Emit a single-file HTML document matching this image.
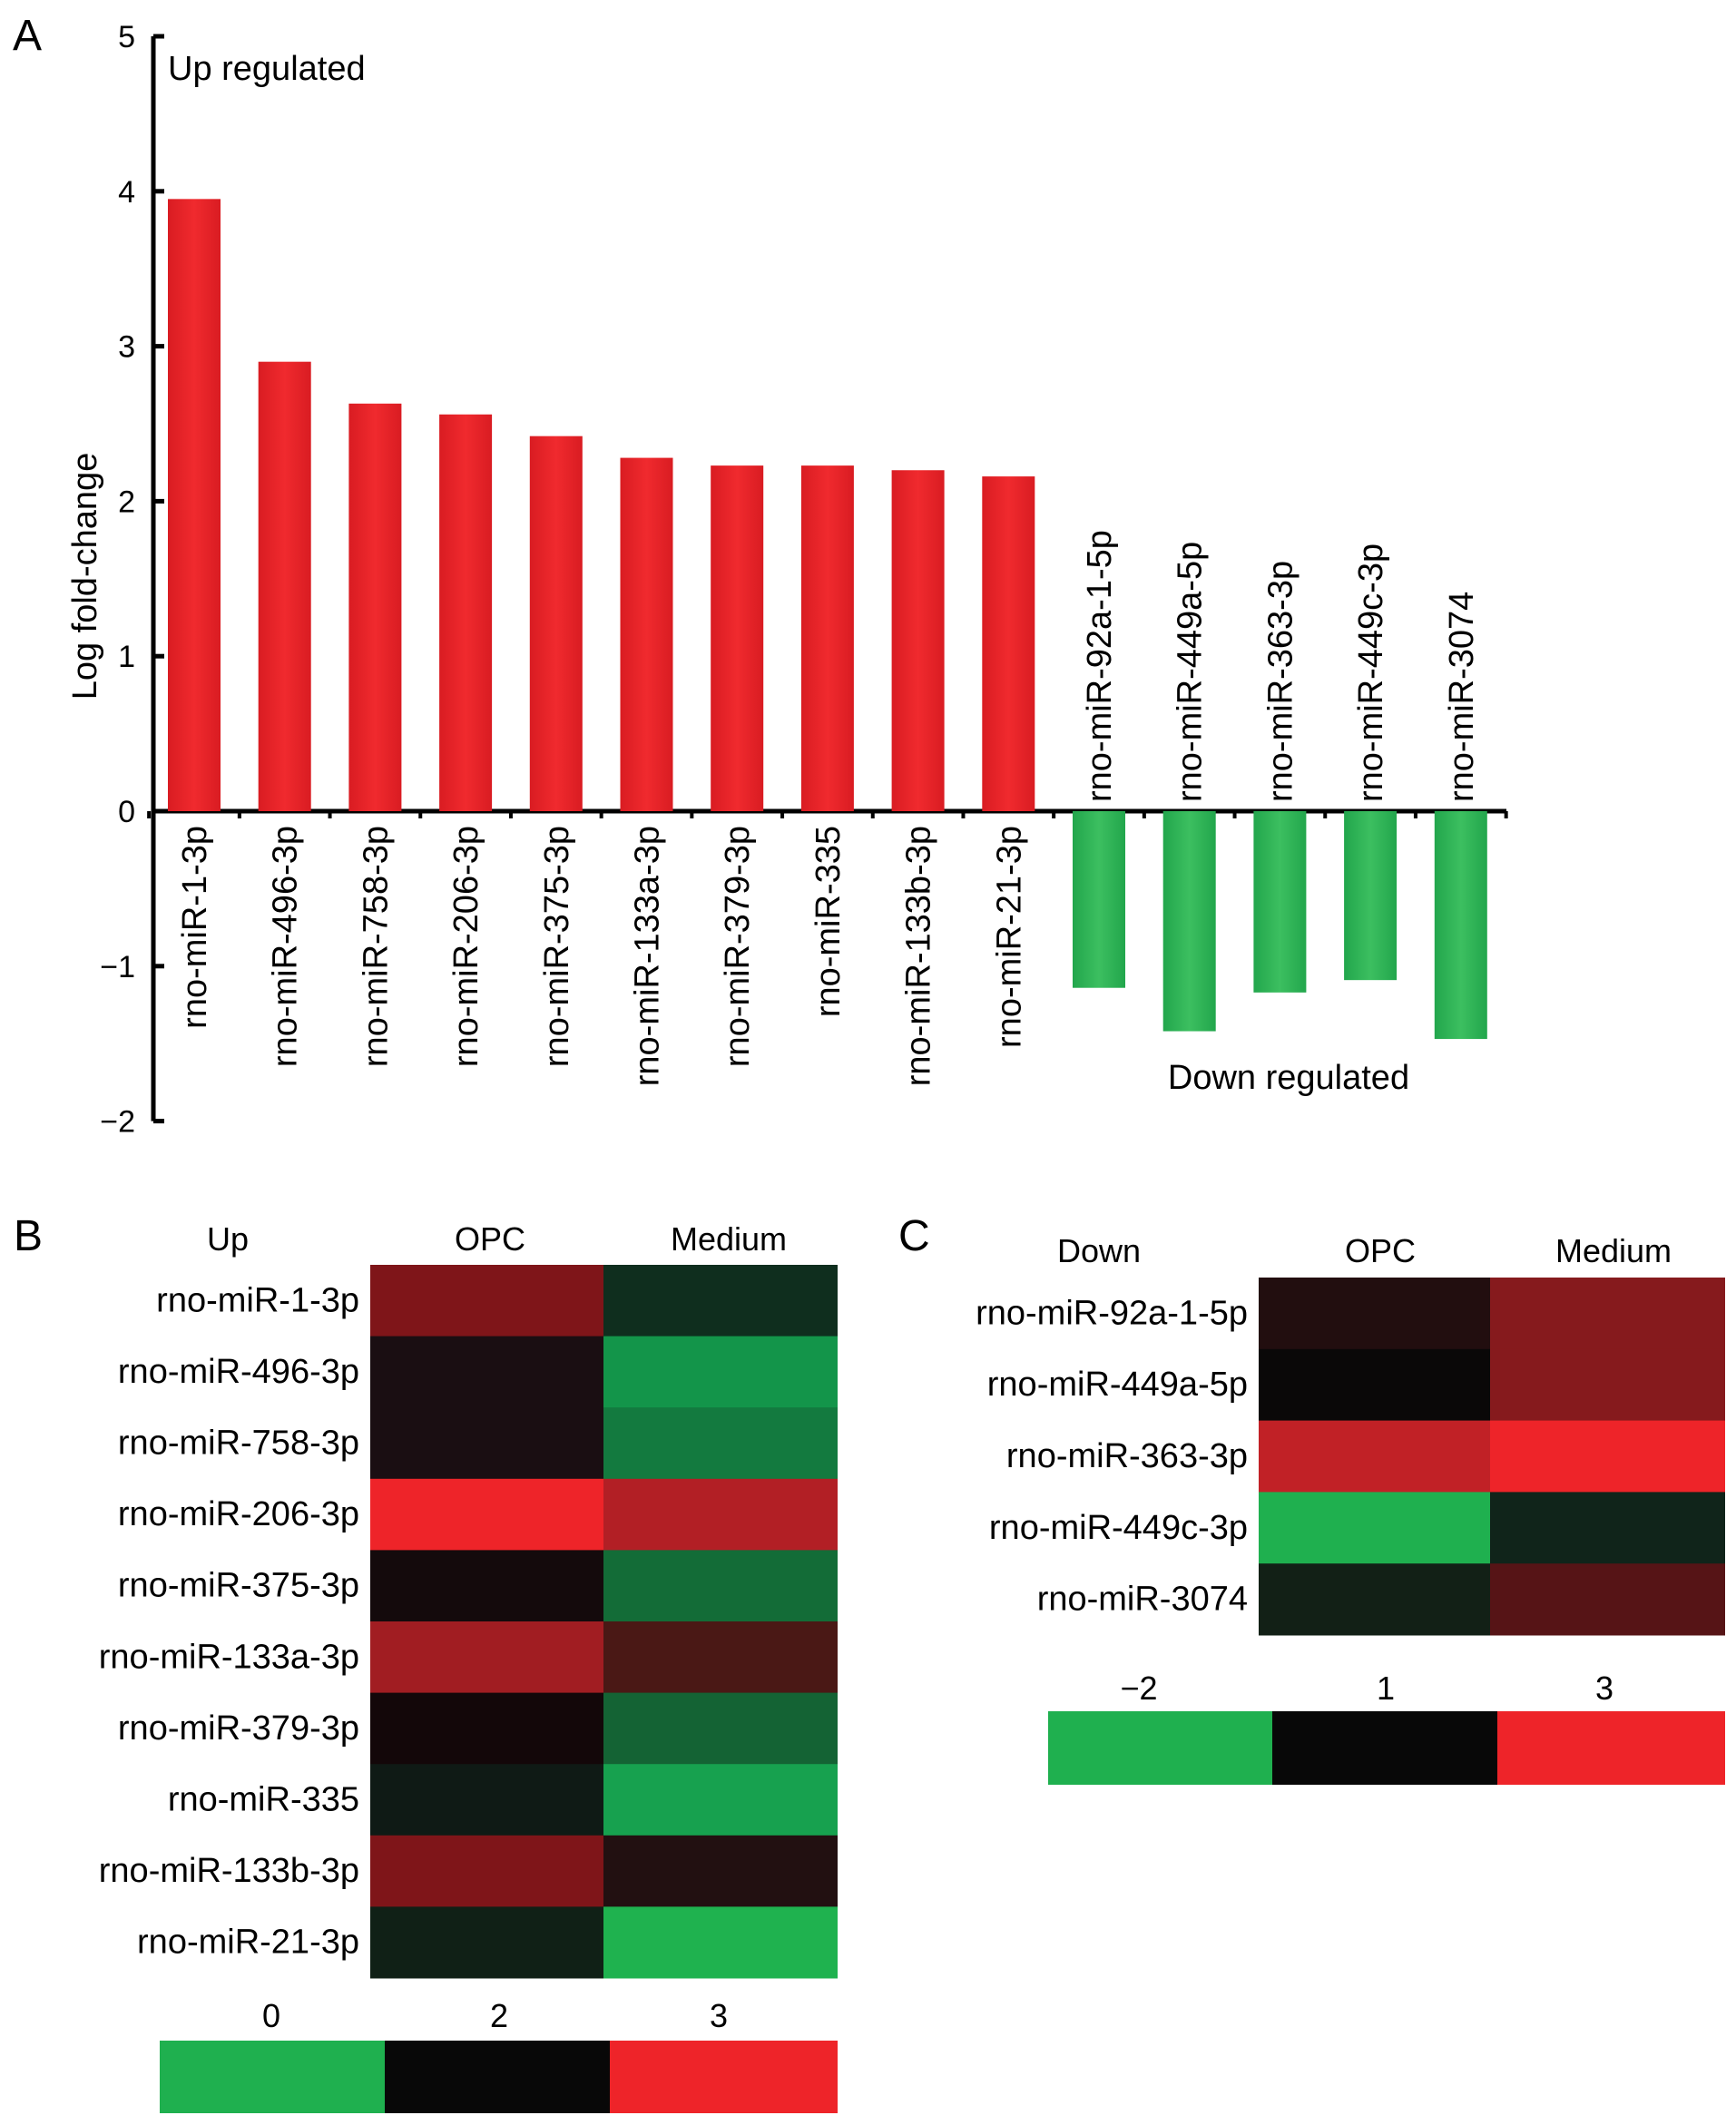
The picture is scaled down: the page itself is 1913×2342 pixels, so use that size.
<!DOCTYPE html>
<html><head><meta charset="utf-8"><style>
html,body{margin:0;padding:0;background:#fff}
svg{display:block;font-family:"Liberation Sans",Arial,sans-serif}
</style></head><body>
<svg id="fig" width="1913" height="2342" viewBox="0 0 1913 2342" xmlns="http://www.w3.org/2000/svg">
<defs>
<linearGradient id="gr" x1="0" x2="1"><stop offset="0" stop-color="#d91c22"/><stop offset="0.5" stop-color="#f02a2e"/><stop offset="1" stop-color="#d91c22"/></linearGradient>
<linearGradient id="gg" x1="0" x2="1"><stop offset="0" stop-color="#22a64c"/><stop offset="0.5" stop-color="#3cbf60"/><stop offset="1" stop-color="#22a64c"/></linearGradient>
</defs>
<text x="14" y="55" font-size="48">A</text>
<text x="15" y="1378" font-size="48">B</text>
<text x="990" y="1378" font-size="48">C</text>
<g id="chartA"></g>
<g id="heatB"></g>
<g id="heatC"></g>
</svg>
<script>
const categories = ["rno-miR-1-3p","rno-miR-496-3p","rno-miR-758-3p","rno-miR-206-3p","rno-miR-375-3p","rno-miR-133a-3p","rno-miR-379-3p","rno-miR-335","rno-miR-133b-3p","rno-miR-21-3p","rno-miR-92a-1-5p","rno-miR-449a-5p","rno-miR-363-3p","rno-miR-449c-3p","rno-miR-3074"];
const foldChange = [3.95,2.9,2.63,2.56,2.42,2.28,2.23,2.23,2.2,2.16,-1.14,-1.42,-1.17,-1.09,-1.47];
const yTicks = [5,4,3,2,1,0,-1,-2];
const yTickLabels = ["5","4","3","2","1","0","\u22121","\u22122"];

const upGenes = ["rno-miR-1-3p","rno-miR-496-3p","rno-miR-758-3p","rno-miR-206-3p","rno-miR-375-3p","rno-miR-133a-3p","rno-miR-379-3p","rno-miR-335","rno-miR-133b-3p","rno-miR-21-3p"];
const upOPC = ["#7f1519","#1a0e12","#1a0e12","#ee2429","#140a0c","#a11d22","#130709","#0f1a15","#7f1519","#102016"];
const upMedium = ["#0f2e1e","#13954a","#137a3f","#b21f25","#136c37","#4a1815","#146334","#17a14f","#221011","#1fb24f"];
const downGenes = ["rno-miR-92a-1-5p","rno-miR-449a-5p","rno-miR-363-3p","rno-miR-449c-3p","rno-miR-3074"];
const downOPC = ["#220e0f","#0a0808","#c12126","#1fb04f","#122016"];
const downMedium = ["#861a1d","#861a1d","#ee2429","#10241a","#561416"];
const legendB = ["0","2","3"];
const legendC = ["\u22122","1","3"];
const legendColors = ["#1fb04f","#080808","#ee2429"];

const NS = "http://www.w3.org/2000/svg";
function mk(parent, tag, attrs, text){
  const e = document.createElementNS(NS, tag);
  for (const k in attrs) e.setAttribute(k, attrs[k]);
  if (text !== undefined) e.textContent = text;
  parent.appendChild(e);
  return e;
}
const A = document.getElementById('chartA');
const axX = 169, y0 = 894, unit = 170.8;
const yS = v => y0 - v*unit;
const x0 = 214, step = 99.7, bw = 58;
const xS = i => x0 + i*step;
let ax = mk(A,'line',{x1:axX,y1:yS(5),x2:axX,y2:yS(-2),stroke:'#000','stroke-width':5});


yTicks.forEach((t,i)=>{
  let tk = mk(A,'line',{x1:axX,y1:yS(t),x2:axX+12,y2:yS(t),stroke:'#000','stroke-width':5});
  
  
  let tl = mk(A,'text',{x:axX-20,y:yS(t)+12,'font-size':34,'text-anchor':'end'},yTickLabels[i]);
  
  
});
let xa = mk(A,'line',{x1:axX,y1:y0,x2:1660,y2:y0,stroke:'#000','stroke-width':5});


for(let i=0;i<=categories.length;i++){
  let tk = mk(A,'line',{x1:xS(i)-step/2,y1:y0,x2:xS(i)-step/2,y2:y0+8,stroke:'#000','stroke-width':4});
  
  
}
categories.forEach((c,i)=>{
  const v = foldChange[i];
  const top = Math.min(yS(v), y0), h = Math.abs(yS(v)-y0);
  let b = mk(A,'rect',{x:xS(i)-bw/2,y:top,width:bw,height:h,fill: v>=0?'url(#gr)':'url(#gg)'});
  
  
  let tx = xS(i)+13, lab;
  if (v>=0) {
    lab = mk(A,'text',{x:0,y:0,'font-size':38,'text-anchor':'end',transform:`translate(${tx},${y0+16}) rotate(-90)`},c);
  } else {
    lab = mk(A,'text',{x:0,y:0,'font-size':38,'text-anchor':'start',transform:`translate(${tx},${y0-10}) rotate(-90)`},c);
  }
  
  
});
let t1 = mk(A,'text',{x:185,y:88,'font-size':38},'Up regulated');


let t2 = mk(A,'text',{x:1420,y:1200,'font-size':38,'text-anchor':'middle'},'Down regulated');


let t3 = mk(A,'text',{x:0,y:0,'font-size':38,'text-anchor':'middle',transform:'translate(106,635) rotate(-90)'},'Log fold-change');



function heat(g, genes, opc, med, x0, x1, x2, yTop, rowH, title, titleX, medX, opcX, hdrY, labelX, legX, legY, legH, legLabels, legLabelX, legLabelY){
  let h = mk(g,'text',{x:titleX,y:hdrY,'font-size':36,'text-anchor':'middle'},title);
  
  
  let h2 = mk(g,'text',{x:opcX,y:hdrY,'font-size':36,'text-anchor':'middle'},'OPC');
  
  
  let h3 = mk(g,'text',{x:medX,y:hdrY,'font-size':36,'text-anchor':'middle'},'Medium');
  
  
  genes.forEach((gn,i)=>{
    const y = yTop + i*rowH;
    let c1 = mk(g,'rect',{x:x0,y:y,width:x1-x0,height:rowH+0.5,fill:opc[i]});
    
    
    let c2 = mk(g,'rect',{x:x1,y:y,width:x2-x1,height:rowH+0.5,fill:med[i]});
    
    
    let l = mk(g,'text',{x:labelX,y:y+rowH/2+12,'font-size':38,'text-anchor':'end'},gn);
    
    
  });
  for(let k=0;k<3;k++){
    let r = mk(g,'rect',{x:legX[k],y:legY,width:legX[k+1]-legX[k],height:legH,fill:legendColors[k]});
    
    
    let t = mk(g,'text',{x:legLabelX[k],y:legLabelY,'font-size':36,'text-anchor':'middle'},legLabels[k]);
    
    
  }
}
heat(document.getElementById('heatB'), upGenes, upOPC, upMedium, 408, 665, 923, 1394, 78.6, 'Up', 251, 803, 540, 1378, 396, [176,424,672,923], 2249, 80, legendB, [299,550,792], 2234);
heat(document.getElementById('heatC'), downGenes, downOPC, downMedium, 1387, 1642, 1901, 1408, 78.8, 'Down', 1211, 1778, 1521, 1391, 1375, [1155,1402,1650,1901], 1886, 81, legendC, [1255,1527,1768], 1873);
</script>
</body></html>
